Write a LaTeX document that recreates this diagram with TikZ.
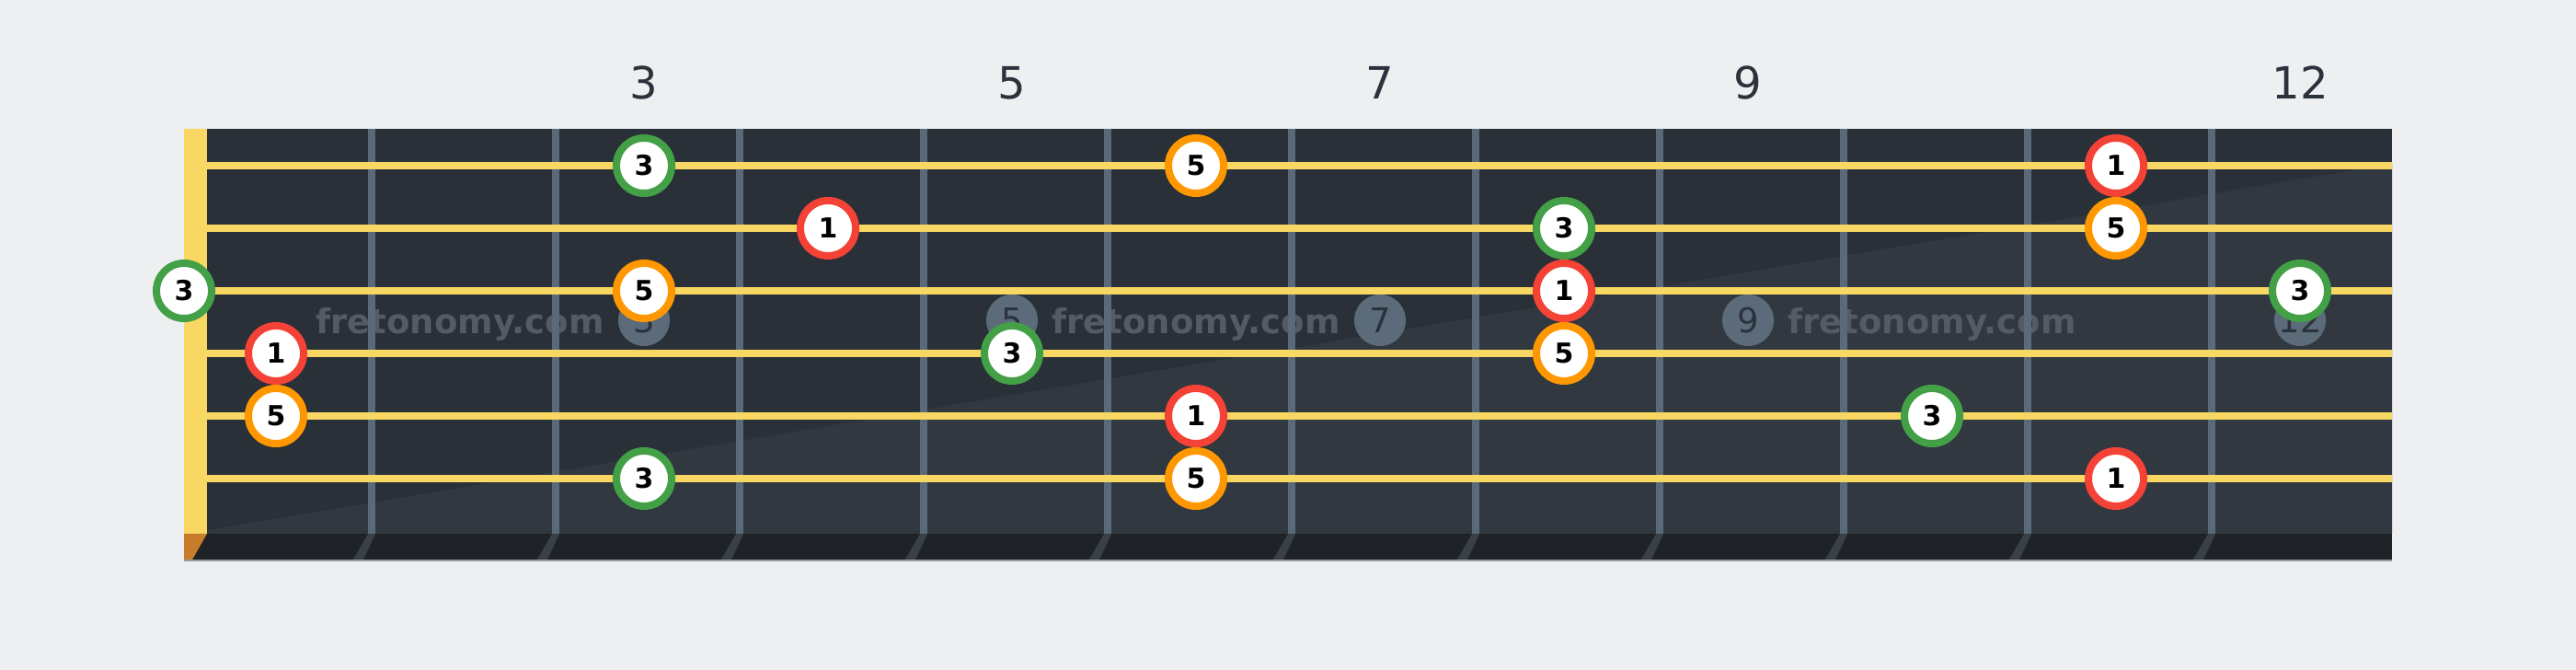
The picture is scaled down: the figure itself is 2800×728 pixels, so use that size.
\documentclass[tikz,border=0pt]{standalone}
\usepackage{fontspec}
\newfontfamily\fretfont{DejaVu Sans}

\definecolor{pageGray}{RGB}{238,239,241}
\definecolor{boardDark}{RGB}{41,48,56}
\definecolor{boardLight}{RGB}{49,56,64}
\definecolor{stripDark}{RGB}{31,35,39}
\definecolor{edgeGray}{RGB}{150,158,165}
\definecolor{fretGray}{RGB}{90,106,121}
\definecolor{shadowGray}{RGB}{58,64,72}
\definecolor{stringYellow}{RGB}{248,216,98}
\definecolor{nutOrange}{RGB}{200,125,45}
\definecolor{inlayGray}{RGB}{91,107,122}
\definecolor{inlayText}{RGB}{43,50,59}
\definecolor{labelGray}{RGB}{43,50,59}
\definecolor{markGray}{RGB}{85,91,102}
\definecolor{noteRed}{RGB}{244,67,54}
\definecolor{noteOrange}{RGB}{255,152,0}
\definecolor{noteGreen}{RGB}{67,160,71}

\tikzset{
  fretnote/.style={circle, draw, fill=white, line width=0.08cm,
    minimum size=0.6cm, inner sep=0pt,
    font=\fretfont\bfseries\fontsize{8.5}{10}\selectfont},
  rootnote/.style={fretnote, draw=noteRed},
  thirdnote/.style={fretnote, draw=noteGreen},
  fifthnote/.style={fretnote, draw=noteOrange},
  inlay/.style={circle, fill=inlayGray, minimum size=0.56cm, inner sep=0pt,
    text=inlayText, font=\fretfont\fontsize{10.5}{12}\selectfont},
  fretnum/.style={text=labelGray, font=\fretfont\fontsize{13.7}{16}\selectfont},
  watermark/.style={anchor=base, text=markGray,
    font=\fretfont\bfseries\fontsize{10.5}{12}\selectfont},
}

\begin{document}
\begin{tikzpicture}[%
      x=0.01cm, y=-0.01cm,
      ]
      \useasboundingbox (0,0) rectangle (2800,728);
      \fill [pageGray] (0,0) rectangle (2800,728);

      % board
      \fill [boardDark] (225,140) rectangle (2600,580);
      \fill [boardLight] (225,576) -- (2600,178) -- (2600,580) -- (225,580) -- cycle;

      % watermark
      \node [watermark] (mark1) at (500,363) {fretonomy.com};
      \node [watermark] (mark2) at (1300,363) {fretonomy.com};
      \node [watermark] (mark3) at (2100,363) {fretonomy.com};

      % inlays
      \node [inlay] (dot3) at (700,348) {3};
      \node [inlay] (dot5) at (1100,348) {5};
      \node [inlay] (dot7) at (1500,348) {7};
      \node [inlay] (dot9) at (1900,348) {9};
      \node [inlay] (dot12) at (2500,348) {12};

      % frets
      \fill [fretGray] (400,140) rectangle (408,580);
      \fill [fretGray] (600,140) rectangle (608,580);
      \fill [fretGray] (800,140) rectangle (808,580);
      \fill [fretGray] (1000,140) rectangle (1008,580);
      \fill [fretGray] (1200,140) rectangle (1208,580);
      \fill [fretGray] (1400,140) rectangle (1408,580);
      \fill [fretGray] (1600,140) rectangle (1608,580);
      \fill [fretGray] (1800,140) rectangle (1808,580);
      \fill [fretGray] (2000,140) rectangle (2008,580);
      \fill [fretGray] (2200,140) rectangle (2208,580);
      \fill [fretGray] (2400,140) rectangle (2408,580);

      % strings
      \draw [stringYellow, line width=0.08cm] (225,180) -- (2600,180);
      \draw [stringYellow, line width=0.08cm] (225,248) -- (2600,248);
      \draw [stringYellow, line width=0.08cm] (225,316) -- (2600,316);
      \draw [stringYellow, line width=0.08cm] (225,384) -- (2600,384);
      \draw [stringYellow, line width=0.08cm] (225,452) -- (2600,452);
      \draw [stringYellow, line width=0.08cm] (225,520) -- (2600,520);

      % edge of the neck
      \fill [stripDark] (200,580) rectangle (2600,608);
      \fill [edgeGray] (200,608) rectangle (2600,610);
      \fill [shadowGray] (400,580) -- (408,580) -- (395,608) -- (384,608) -- cycle;
      \fill [shadowGray] (600,580) -- (608,580) -- (595,608) -- (584,608) -- cycle;
      \fill [shadowGray] (800,580) -- (808,580) -- (795,608) -- (784,608) -- cycle;
      \fill [shadowGray] (1000,580) -- (1008,580) -- (995,608) -- (984,608) -- cycle;
      \fill [shadowGray] (1200,580) -- (1208,580) -- (1195,608) -- (1184,608) -- cycle;
      \fill [shadowGray] (1400,580) -- (1408,580) -- (1395,608) -- (1384,608) -- cycle;
      \fill [shadowGray] (1600,580) -- (1608,580) -- (1595,608) -- (1584,608) -- cycle;
      \fill [shadowGray] (1800,580) -- (1808,580) -- (1795,608) -- (1784,608) -- cycle;
      \fill [shadowGray] (2000,580) -- (2008,580) -- (1995,608) -- (1984,608) -- cycle;
      \fill [shadowGray] (2200,580) -- (2208,580) -- (2195,608) -- (2184,608) -- cycle;
      \fill [shadowGray] (2400,580) -- (2408,580) -- (2395,608) -- (2384,608) -- cycle;

      % nut
      \fill [stringYellow] (200,140) rectangle (225,580);
      \fill [nutOrange] (200,580) -- (225,580) -- (209,608) -- (200,608) -- cycle;

      % notes, string 1 to 6
      \node [thirdnote] (s1f3) at (700,180) {3};
      \node [fifthnote] (s1f6) at (1300,180) {5};
      \node [rootnote] (s1f11) at (2300,180) {1};

      \node [rootnote] (s2f4) at (900,248) {1};
      \node [thirdnote] (s2f8) at (1700,248) {3};
      \node [fifthnote] (s2f11) at (2300,248) {5};

      \node [thirdnote] (s3f0) at (200,316) {3};
      \node [fifthnote] (s3f3) at (700,316) {5};
      \node [rootnote] (s3f8) at (1700,316) {1};
      \node [thirdnote] (s3f12) at (2500,316) {3};

      \node [rootnote] (s4f1) at (300,384) {1};
      \node [thirdnote] (s4f5) at (1100,384) {3};
      \node [fifthnote] (s4f8) at (1700,384) {5};

      \node [fifthnote] (s5f1) at (300,452) {5};
      \node [rootnote] (s5f6) at (1300,452) {1};
      \node [thirdnote] (s5f10) at (2100,452) {3};

      \node [thirdnote] (s6f3) at (700,520) {3};
      \node [fifthnote] (s6f6) at (1300,520) {5};
      \node [rootnote] (s6f11) at (2300,520) {1};

      % fret numbers
      \node [fretnum] (num3) at (700,90) {3};
      \node [fretnum] (num5) at (1100,90) {5};
      \node [fretnum] (num7) at (1500,90) {7};
      \node [fretnum] (num9) at (1900,90) {9};
      \node [fretnum] (num12) at (2500,90) {12};
      \end{tikzpicture}
\end{document}
